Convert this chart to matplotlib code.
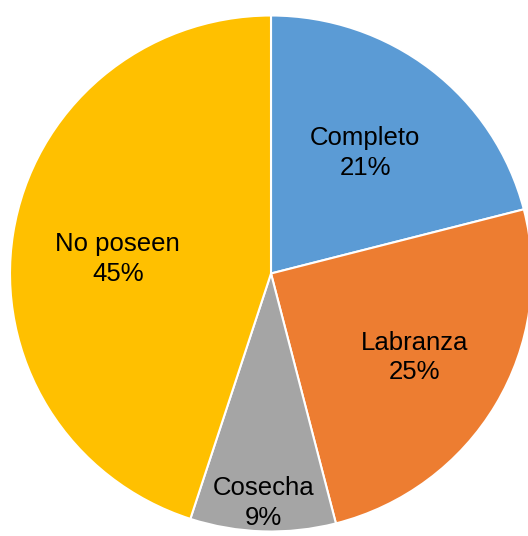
import matplotlib
matplotlib.use("Agg")
import matplotlib.pyplot as plt
import numpy as np

categories = ["Completo", "Labranza", "Cosecha", "No poseen"]
values = [21, 25, 9, 45]
colors = ["#5B9BD5", "#ED7D31", "#A5A5A5", "#FFC000"]

plt.rcParams['font.family'] = ['Liberation Sans', 'DejaVu Sans']

W, H = 528, 536
fig = plt.figure(figsize=(W/100, H/100), dpi=100)
cx, cy, rx, ry = 271, 273.5, 261, 258
ax = fig.add_axes([(cx - rx)/W, (H - cy - ry)/H, 2*rx/W, 2*ry/H])
wedges, _ = ax.pie(values, colors=colors, startangle=90, counterclock=False,
                   radius=1, wedgeprops=dict(edgecolor="white", linewidth=1.5))
dist = [0.59, 0.64, 0.89, 0.59]
ang_adj = [0, 0, 0, 3.5]
total = sum(values)
for w, cat, v, d, a in zip(wedges, categories, values, dist, ang_adj):
    ang = np.deg2rad((w.theta1 + w.theta2) / 2 + a)
    ax.text(d*np.cos(ang), d*np.sin(ang), f"{cat}\n{round(100*v/total)}%",
            ha="center", va="center", fontsize=18.5, color="black", linespacing=1.3)
ax.set_xlim(-1, 1)
ax.set_ylim(-1, 1)
ax.set_aspect("auto")
ax.axis("off")
fig.savefig("out.png", dpi=100)
